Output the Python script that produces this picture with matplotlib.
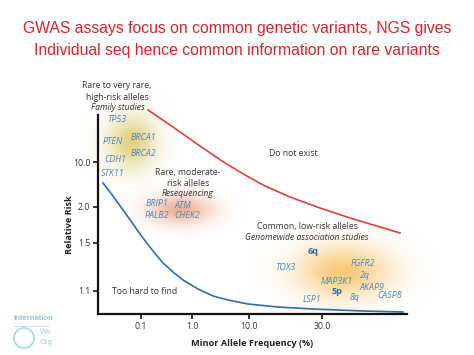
import numpy as np
import matplotlib
matplotlib.use("Agg")
import matplotlib.pyplot as plt
from matplotlib.patches import Ellipse

# ---------------- data (schematic positions) ----------------
x_tick_pos = [43, 94, 151, 224]
x_tick_labels = ["0.1", "1.0", "10.0", "30.0"]
y_tick_pos = [23, 71, 107, 152]
y_tick_labels = ["1.1", "1.5", "2.0", "10.0"]

upper_x = [50, 75, 99, 124, 147, 167, 192, 222, 252, 282, 302]
upper_y = [204, 187, 170, 153, 139, 128, 117, 106, 96, 87, 81]
lower_x = [5, 15, 25, 35, 45, 55, 65, 75, 85, 100, 115, 130, 150, 180, 215, 265, 305]
lower_y = [131, 118, 104, 90, 76, 63, 51, 42, 34, 25, 18, 14, 10, 7, 5, 3, 2]

high_genes = ["TP53", "PTEN", "BRCA1", "BRCA2", "CDH1", "STK11"]
high_gx = [19, 15, 45, 45, 17, 15]
high_gy = [194, 172, 176, 160, 155, 140]

mod_genes = ["BRIP1", "ATM", "PALB2", "CHEK2"]
mod_gx = [59, 85, 59, 89]
mod_gy = [110, 108, 99, 98]

low_genes = ["6q", "TOX3", "FGFR2", "2q", "MAP3K1", "AKAP9", "5p", "8q", "CASP8", "LSP1"]
low_gx = [215, 187, 265, 267, 239, 274, 239, 257, 292, 214]
low_gy = [62, 47, 51, 39, 33, 27, 23, 17, 19, 15]
low_bold = [True, False, False, False, False, False, True, False, False, False]

title_lines = ["GWAS assays focus on common genetic variants, NGS gives",
               "Individual seq hence common information on rare variants"]

# ---------------- figure ----------------
W, H = 474, 355
fig = plt.figure(figsize=(W / 100, H / 100), dpi=100)
fig.patch.set_facecolor("white")

ax_l, ax_r, ax_t, ax_b = 98, 407, 115, 314
ax = fig.add_axes([ax_l / W, 1 - ax_b / H, (ax_r - ax_l) / W, (ax_b - ax_t) / H])
ax.set_facecolor("none")

# glows
def blob(cx, cy, sx, sy, color, alpha):
    xs = np.linspace(cx - 3 * sx, cx + 3 * sx, 150)
    ys = np.linspace(cy - 3 * sy, cy + 3 * sy, 150)
    X, Y = np.meshgrid(xs, ys)
    Z = np.exp(-(((X - cx) / sx) ** 2 + ((Y - cy) / sy) ** 2) / 2)
    rgba = np.zeros(Z.shape + (4,))
    rgba[..., :3] = matplotlib.colors.to_rgb(color)
    rgba[..., 3] = Z * alpha
    ax.imshow(rgba, extent=(xs[0], xs[-1], ys[0], ys[-1]), origin="lower",
              interpolation="bilinear", zorder=0, aspect="auto", clip_on=False)

blob(34, 172, 17, 19, "#d9c25a", 0.75)
blob(82, 104, 22, 10, "#e8906a", 0.7)
blob(245, 42, 32, 18, "#f7b84a", 0.75)
ax.set_xlim(0, ax_r - ax_l)
ax.set_ylim(0, ax_b - ax_t)

ax.plot(upper_x, upper_y, color="#d9453c", lw=1.2, clip_on=False, zorder=2,
        solid_joinstyle="round")
ax.plot(lower_x, lower_y, color="#2f6fa8", lw=1.2, clip_on=False, zorder=2,
        solid_joinstyle="round")

for sp in ["top", "right"]:
    ax.spines[sp].set_visible(False)
for sp in ["left", "bottom"]:
    ax.spines[sp].set_linewidth(1.6)
    ax.spines[sp].set_color("#111111")

ax.set_xticks(x_tick_pos)
ax.set_xticklabels(x_tick_labels)
ax.set_yticks(y_tick_pos)
ax.set_yticklabels(y_tick_labels)
ax.tick_params(direction="out", length=3.5, width=1.2, colors="#111111",
               labelsize=6.3, labelcolor="#333333", pad=2)
for lab in ax.get_xticklabels() + ax.get_yticklabels():
    lab.set_family("Open Sans")

def P(px, py):
    return px - ax_l, ax_b - py

tf = dict(family="Open Sans", fontsize=6.2, color="#333333", ha="center", va="center")
for txt, (px, py), it in [("Rare to very rare,", (117, 86), False),
                          ("high-risk alleles", (117, 97), False),
                          ("Family studies", (118, 108), True),
                          ("Rare, moderate-", (188, 173), False),
                          ("risk alleles", (188, 183), False),
                          ("Resequencing", (188, 194), True),
                          ("Do not exist", (293, 154), False),
                          ("Common, low-risk alleles", (307, 227), False),
                          ("Genomewide association studies", (307, 238), True),
                          ("Too hard to find", (145, 292), False)]:
    x, y = P(px, py)
    ax.text(x, y, txt, style="italic" if it else "normal", clip_on=False, zorder=3, **tf)

gf = dict(family="Open Sans", fontsize=6.4, color="#4f86b8", ha="center", va="center",
          style="italic", zorder=3)
for g, x, y in zip(high_genes, high_gx, high_gy):
    ax.text(x, y, g, **gf)
for g, x, y in zip(mod_genes, mod_gx, mod_gy):
    ax.text(x, y, g, **gf)
for g, x, y, b in zip(low_genes, low_gx, low_gy, low_bold):
    if b:
        ax.text(x, y, g, family="Open Sans", fontsize=6.6, color="#2d6aa0",
                ha="center", va="center", weight="bold", zorder=3)
    else:
        ax.text(x, y, g, **gf)

fig.text(252 / W, 1 - 343 / H, "Minor Allele Frequency (%)", family="Open Sans",
         fontsize=6.6, weight="bold", color="#222222", ha="center", va="center")
fig.text(70 / W, 1 - 225 / H, "Relative Risk", family="Open Sans", fontsize=6.6,
         weight="bold", color="#222222", ha="center", va="center", rotation=90)

for i, line in enumerate(title_lines):
    fig.text(237 / W, 1 - (29 + 21 * i) / H, line, family="Liberation Sans",
             fontsize=11.3, color="#d7262b", ha="center", va="center")

# faint logo at bottom left
fig.text(13 / W, 1 - 318 / H, "Internation", family="Liberation Sans", fontsize=5.5,
         color="#8cc9d6", ha="left", va="center", weight="bold")
fig.add_artist(matplotlib.lines.Line2D([13 / W, 48 / W], [1 - 326 / H, 1 - 326 / H],
                                       color="#b9dfe8", lw=0.6))
fig.add_artist(Ellipse((24 / W, 1 - 338 / H), 20 / W, 20 / H, transform=fig.transFigure,
                       facecolor="none", edgecolor="#a8d7e2", lw=1.2))
fig.text(40 / W, 1 - 333 / H, "Wo", family="Liberation Sans", fontsize=5.5,
         color="#9fd0dc", ha="left", va="center")
fig.text(40 / W, 1 - 343 / H, "Org", family="Liberation Sans", fontsize=5.5,
         color="#9fd0dc", ha="left", va="center")

fig.savefig("out.png", dpi=100, facecolor="white")
